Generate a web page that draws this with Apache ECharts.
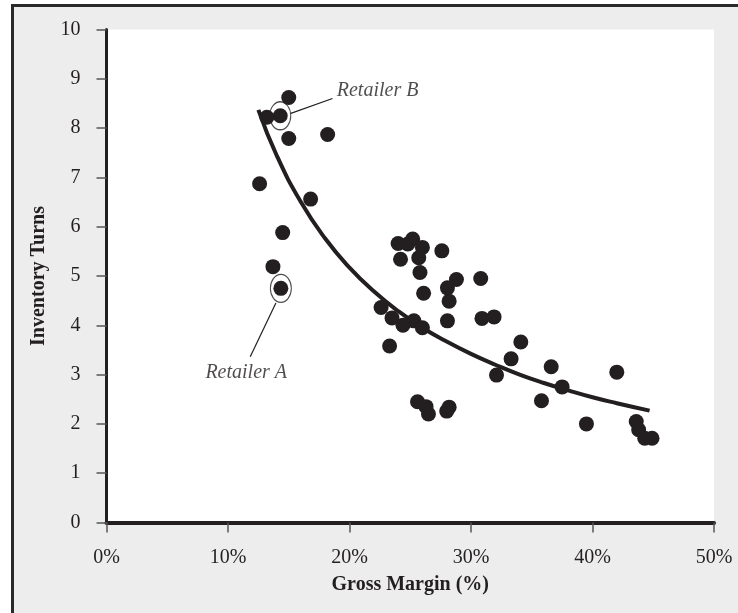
<!DOCTYPE html>
<html>
<head>
<meta charset="utf-8">
<script src="https://cdn.jsdelivr.net/npm/echarts@6/dist/echarts.min.js"></script>
<style>
  html, body { margin: 0; padding: 0; background: #ffffff; overflow: hidden; }
  #wrap { position: relative; width: 738px; height: 613px; overflow: hidden; }
  #frame { position: absolute; left: 11px; top: 4px; width: 800px; height: 700px; border: 3px solid #2a2a2a; background: #ededed; }
  #chart { position: absolute; left: 0; top: 0; width: 738px; height: 613px; }
</style>
</head>
<body>
<div id="wrap">
  <div id="frame"></div>
  <div id="chart"></div>
</div>
<script>
// Retailers: gross margin (%) and inventory turns
const grossMargin = [13.2, 14.3, 15.0, 15.0, 18.2, 12.6, 16.8, 14.5, 13.7, 14.35,
  24.0, 24.8, 25.2, 26.0, 27.6, 24.2, 25.7, 25.8, 26.1, 28.8,
  28.06, 28.2, 30.8, 22.6, 23.5, 24.4, 25.3, 26.0, 28.06, 30.9,
  31.9, 23.3, 34.1, 33.3, 32.1, 36.6, 37.5, 35.8, 25.6, 26.3,
  26.5, 28.2, 28.0, 42.0, 39.5, 43.6, 43.8, 44.3, 44.9];
const inventoryTurns = [8.22, 8.25, 8.62, 7.79, 7.87, 6.87, 6.56, 5.88, 5.19, 4.75,
  5.66, 5.65, 5.75, 5.58, 5.51, 5.34, 5.37, 5.07, 4.65, 4.93,
  4.76, 4.49, 4.95, 4.36, 4.15, 4.00, 4.09, 3.95, 4.09, 4.14,
  4.17, 3.58, 3.66, 3.32, 2.99, 3.16, 2.75, 2.47, 2.45, 2.35,
  2.20, 2.34, 2.26, 3.05, 2.00, 2.05, 1.88, 1.71, 1.71];

// Trend curve
const trendMargin = [12.5, 14, 16, 18, 20, 22, 24, 26, 28, 30, 32, 34, 36, 38, 40, 42, 44.7];
const trendTurns  = [8.37, 7.45, 6.50, 5.76, 5.17, 4.69, 4.29, 3.95, 3.67, 3.42, 3.20, 3.00, 2.83, 2.68, 2.54, 2.42, 2.27];

// Annotated retailers
const calloutNames = ['Retailer A', 'Retailer B'];
const calloutPoints = [[14.35, 4.75], [14.3, 8.25]];
const calloutLineStarts = [[13.94, 4.45], [15.17, 8.30]];
const calloutLineEnds = [[11.83, 3.36], [18.6, 8.60]];
const calloutTextAt = [[11.5, 3.04], [18.95, 8.76]];

const ink = '#231f20';
const serif = '"Liberation Serif", "Times New Roman", serif';

const points = grossMargin.map((x, i) => [x, inventoryTurns[i]]);
const trend = trendMargin.map((x, i) => [x, trendTurns[i]]);

const chart = echarts.init(document.getElementById('chart'), null, { renderer: 'canvas' });

const series = [
  {
    type: 'line', data: trend, smooth: true, symbol: 'none', z: 3,
    lineStyle: { color: ink, width: 4 }, silent: true
  },
  {
    type: 'scatter', data: points, symbol: 'circle', symbolSize: 15, z: 4,
    itemStyle: { color: ink, opacity: 1 }, silent: true
  },
  {
    type: 'scatter', data: calloutPoints, symbol: 'circle', symbolSize: [21, 28], z: 5,
    itemStyle: { color: 'rgba(0,0,0,0)', borderColor: ink, borderWidth: 1.2 }, silent: true
  }
];
calloutNames.forEach((name, i) => {
  series.push({
    type: 'line', data: [calloutLineStarts[i], calloutLineEnds[i]], symbol: 'none', z: 5, silent: true,
    lineStyle: { color: ink, width: 1.2 }
  });
  series.push({
    type: 'scatter', data: [{ value: calloutTextAt[i], name: name }], symbolSize: 0, z: 6, silent: true,
    label: {
      show: true, formatter: '{b}', position: i === 0 ? 'inside' : 'right', distance: 0,
      align: i === 0 ? 'center' : 'left', verticalAlign: 'middle',
      fontFamily: serif, fontStyle: 'italic', fontSize: 20, color: ink
    }
  });
});

chart.setOption({
  backgroundColor: 'transparent',
  animation: false,
  grid: {
    left: 106.5, right: 24, top: 29.5, bottom: 90.5,
    show: true, backgroundColor: '#ffffff', borderWidth: 0
  },
  xAxis: {
    type: 'value', min: 0, max: 50, interval: 10,
    name: 'Gross Margin (%)', nameLocation: 'middle', nameGap: 52,
    nameTextStyle: { fontFamily: serif, fontWeight: 'bold', fontSize: 20, color: ink },
    axisLine: { show: true, lineStyle: { color: ink, width: 4 } },
    axisTick: { show: true, inside: false, length: 10, lineStyle: { color: '#555', width: 1.5 } },
    axisLabel: { formatter: '{value}%', margin: 25, fontFamily: serif, fontSize: 20, color: ink },
    splitLine: { show: false }
  },
  yAxis: {
    type: 'value', min: 0, max: 10, interval: 1,
    name: 'Inventory Turns', nameLocation: 'middle', nameGap: 58,
    nameTextStyle: { fontFamily: serif, fontWeight: 'bold', fontSize: 20, color: ink },
    axisLine: { show: true, lineStyle: { color: ink, width: 3 } },
    axisTick: { show: true, inside: false, length: 10, lineStyle: { color: '#555', width: 1.5 } },
    axisLabel: { margin: 26, fontFamily: serif, fontSize: 20, color: ink },
    splitLine: { show: false }
  },
  series: series
});
</script>
</body>
</html>
